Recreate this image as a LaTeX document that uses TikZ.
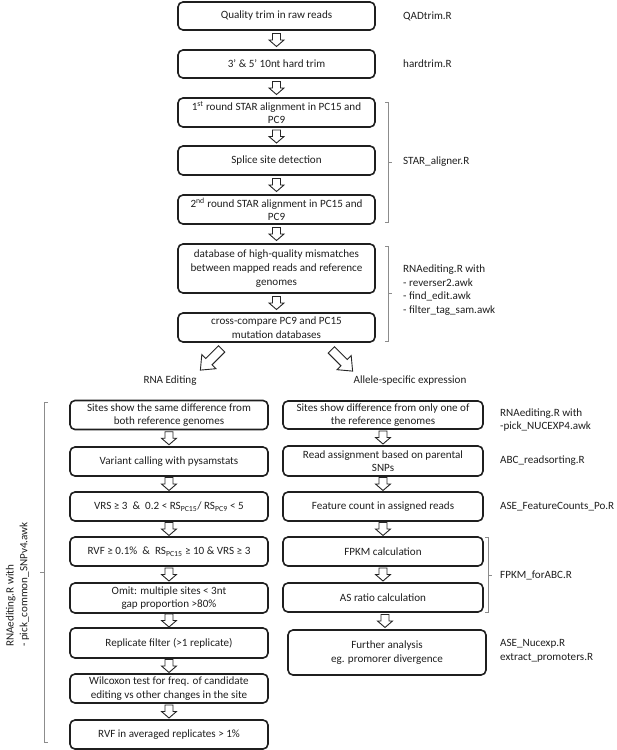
\documentclass[tikz,border=0pt]{standalone}
\usepackage{fontspec}
\setmainfont{Carlito}
\usetikzlibrary{calc}
\newcommand\smallarr[1]{\draw[arrline, shift={#1}, rotate=-90] (-6.5,-4) -- (0,-4) -- (0,-7.5) -- (6.5,0) -- (0,7.5) -- (0,4) -- (-6.5,4) -- cycle;}
\newcommand\bigarr[2]{\draw[arrline, shift={#1}, rotate=#2] (-15,-4.5) -- (3,-4.5) -- (3,-10) -- (15,0) -- (3,10) -- (3,4.5) -- (-15,4.5) -- cycle;}
\begin{document}
\begin{tikzpicture}[x=1pt,y=-1pt,
  txt/.style={font=\fontsize{11.1}{13.6}\selectfont, text=black!88},
  box/.style={txt, draw=black!88, line width=1.6pt, rounded corners=5pt, align=center, inner sep=0pt},
  topbox/.style={box, minimum width=197pt},
  leftbox/.style={box, minimum width=198pt},
  rightbox/.style={box, minimum width=200pt},
  lbl/.style={txt, anchor=west, align=left, inner sep=0pt},
  arrline/.style={draw=black!85, line width=0.9pt, fill=white, line join=miter},
  brace/.style={draw=black!45, line width=0.8pt}]
\useasboundingbox (0,0) rectangle (617,750);

% top column
\node[topbox, minimum height=28pt] (b1) at (276.5,16) {Quality trim in raw reads};
\node[topbox, minimum height=28pt] (b2) at (276.5,64) {3\textquoteright\ \& 5\textquoteright\ 10nt hard trim};
\node[topbox, minimum height=29pt] (b3) at (276.5,112.5) {1\textsuperscript{st} round STAR alignment in PC15 and\\PC9};
\node[topbox, minimum height=29pt] (b4) at (276.5,160.5) {Splice site detection};
\node[topbox, minimum height=29pt] (b5) at (276.5,209.5) {2\textsuperscript{nd} round STAR alignment in PC15 and\\PC9};
\node[topbox, minimum height=49pt] (b6) at (276.5,268.5) {database of high-quality mismatches\\between mapped reads and reference\\genomes};
\node[topbox, minimum height=29pt] (b7) at (276.5,327.5) {cross-compare PC9 and PC15\\mutation databases};

\foreach \a/\b in {b1/b2,b2/b3,b3/b4,b4/b5,b5/b6,b6/b7}
  {\smallarr{($(\a.south)!0.5!(\b.north)$)}}

\node[lbl] (q) at (403,16) {QADtrim.R};
\node[lbl] (h) at (403,64) {hardtrim.R};
\node[lbl] (s) at (403,162) {STAR\_aligner.R};
\node[lbl] (r) at (403,290) {RNAediting.R with\\- reverser2.awk\\- find\_edit.awk\\- filter\_tag\_sam.awk};

\draw[brace] (385,102) -- (388,102) -- (388,222) -- (385,222);
\draw[brace] (388,162) -- (392,162);
\draw[brace] (385,246) -- (388,246) -- (388,341) -- (385,341);
\draw[brace] (388,293) -- (392,293);

% split
\node[txt, inner sep=0pt] (re) at (170,381) {RNA Editing};
\node[txt, inner sep=0pt] (ae) at (410,381) {Allele-specific expression};
\bigarr{(211,359.5)}{225}
\bigarr{(342,360.5)}{-45}

% left column
\node[leftbox, minimum height=29pt] (l1) at (169,415) {Sites show the same difference from\\both reference genomes};
\node[leftbox, minimum height=29pt] (l2) at (169,461.5) {Variant calling with pysamstats};
\node[leftbox, minimum height=29pt] (l3) at (169,506.5) {VRS ≥ 3 \ \& \ 0.2 < RS\textsubscript{PC15}/ RS\textsubscript{PC9} < 5};
\node[leftbox, minimum height=29pt] (l4) at (169,551.5) {RVF ≥ 0.1\% \ \& \ RS\textsubscript{PC15} ≥ 10 \& VRS ≥ 3};
\node[leftbox, minimum height=30pt] (l5) at (169,598) {Omit: multiple sites < 3nt\\gap proportion >80\%};
\node[leftbox, minimum height=30pt] (l6) at (169,643) {Replicate filter (>1 replicate)};
\node[leftbox, minimum height=29pt] (l7) at (169,688.5) {Wilcoxon test for freq. of candidate\\editing vs other changes in the site};
\node[leftbox, minimum height=29pt] (l8) at (169,734.5) {RVF in averaged replicates > 1\%};

\foreach \a/\b in {l1/l2,l2/l3,l3/l4,l4/l5,l5/l6,l6/l7,l7/l8}
  {\smallarr{($(\a.south)!0.5!(\b.north)$)}}

\draw[brace] (48,402) -- (44,402) -- (44,742) -- (48,742);
\draw[brace] (44,572) -- (40,572);
\node[txt, rotate=90, anchor=west, align=left, inner sep=0pt] (ll) at (17.5,647) {RNAediting.R with\\- pick\_common\_SNPv4.awk};

% right column
\node[rightbox, minimum height=28pt] (r1) at (383,415) {Sites show difference from only one of\\the reference genomes};
\node[rightbox, minimum height=30pt] (r2) at (383,461) {Read assignment based on parental\\SNPs};
\node[rightbox, minimum height=29pt] (r3) at (383,506.5) {Feature count in assigned reads};
\node[rightbox, minimum height=29pt] (r4) at (383,551.5) {FPKM calculation};
\node[rightbox, minimum height=29pt] (r5) at (383,597.5) {AS ratio calculation};
\node[box, minimum width=198pt, minimum height=45pt] (r6) at (387,652.5) {Further analysis\\eg. promorer divergence};

\foreach \a/\b in {r1/r2,r2/r3,r3/r4,r4/r5,r5/r6}
  {\smallarr{($(\a.south)!0.5!(\b.north)$)}}

\node[lbl] (p1) at (500,420) {RNAediting.R with\\-pick\_NUCEXP4.awk};
\node[lbl] (p2) at (500,461) {ABC\_readsorting.R};
\node[lbl] (p3) at (500,507) {ASE\_FeatureCounts\_Po.R};
\node[lbl] (p4) at (500,575) {FPKM\_forABC.R};
\node[lbl] (p5) at (500,651) {ASE\_Nucexp.R\\extract\_promoters.R};

\draw[brace] (485,537) -- (488,537) -- (488,612) -- (485,612);
\draw[brace] (488,575) -- (492,575);
\end{tikzpicture}
\end{document}
